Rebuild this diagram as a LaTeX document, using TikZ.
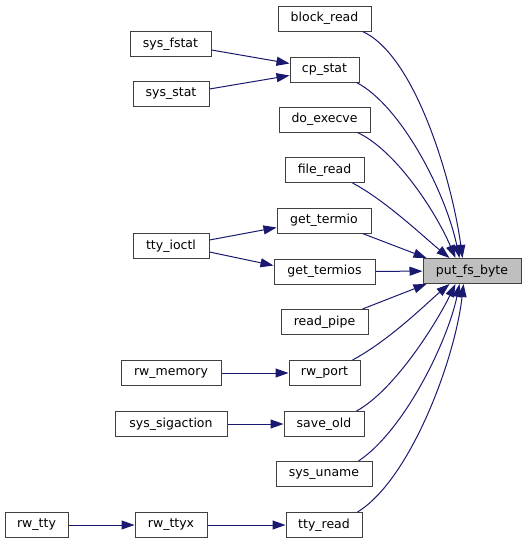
\documentclass[tikz,border=0pt]{standalone}
\usepackage{fontspec}
\setmainfont{DejaVu Sans}
\usetikzlibrary{positioning, arrows.meta, calc}

\definecolor{edgeblue}{RGB}{25,25,112}
\definecolor{boxgray}{RGB}{191,191,191}

\begin{document}
\begin{tikzpicture}[
          x=1pt, y=-1pt,
          font=\fontsize{12.5pt}{14pt}\selectfont,
          fn/.style={draw=black!75, line width=1pt, fill=white, inner sep=0pt, minimum height=25pt},
          root/.style={fn, fill=boxgray},
          call/.style={draw=edgeblue, line width=1pt, -{Triangle[length=13pt, width=9pt]}}
      ]
          \useasboundingbox (0,0) rectangle (527,544);

          % Zielfunktion rechts
          \node[root, minimum width=98pt] (put) at (472,271) {put\_fs\_byte};

          % Direkte Aufrufer (mittlere Spalte)
          \node[fn, minimum width=93pt] (block_read) at (324.5,18.5) {block\_read};
          \node[fn, minimum width=69pt] (cp_stat) at (324.5,69.5) {cp\_stat};
          \node[fn, minimum width=91pt] (do_execve) at (324.5,119.5) {do\_execve};
          \node[fn, minimum width=79pt] (file_read) at (324.5,170) {file\_read};
          \node[fn, minimum width=94pt] (get_termio) at (324,220.5) {get\_termio};
          \node[fn, minimum width=101pt] (get_termios) at (324.5,271.5) {get\_termios};
          \node[fn, minimum width=87pt] (read_pipe) at (324.5,322) {read\_pipe};
          \node[fn, minimum width=71pt] (rw_port) at (324.5,373) {rw\_port};
          \node[fn, minimum width=80pt] (save_old) at (324,424) {save\_old};
          \node[fn, minimum width=96pt] (sys_uname) at (324,474) {sys\_uname};
          \node[fn, minimum width=76pt] (tty_read) at (324,525) {tty\_read};

          % Indirekte Aufrufer (linke Spalten)
          \node[fn, minimum width=81pt] (sys_fstat) at (170.5,44) {sys\_fstat};
          \node[fn, minimum width=76pt] (sys_stat) at (171,94) {sys\_stat};
          \node[fn, minimum width=76pt] (tty_ioctl) at (171,246) {tty\_ioctl};
          \node[fn, minimum width=100pt] (rw_memory) at (171,373) {rw\_memory};
          \node[fn, minimum width=112pt] (sys_sigaction) at (171,424) {sys\_sigaction};
          \node[fn, minimum width=72pt] (rw_ttyx) at (171,525) {rw\_ttyx};
          \node[fn, minimum width=63pt] (rw_tty) at (36.5,525) {rw\_tty};

          % Kanten in die Zielfunktion (oben)
          \draw[call] ($(block_read.south east)+(-9,0)$) .. controls (415,55) and (452,180) .. ($(put.north west)+(40,0)$);
          \draw[call] ($(cp_stat.south east)+(-3,0)$) .. controls (400,105) and (445,190) .. ($(put.north west)+(37,0)$);
          \draw[call] ($(do_execve.south east)+(-13,0)$) .. controls (395,150) and (435,210) .. ($(put.north west)+(33,0)$);
          \draw[call] ($(file_read.south east)+(-12,0)$) .. controls (385,200) and (425,238) .. ($(put.north west)+(27,0)$);
          \draw[call] ($(get_termio.south east)+(-9,0)$) -- ($(put.north west)+(4,0)$);
          \draw[call] (get_termios) -- (put);

          % Kanten in die Zielfunktion (unten)
          \draw[call] ($(read_pipe.north east)+(-6,0)$) -- ($(put.south west)+(4,0)$);
          \draw[call] ($(rw_port.north east)+(-8,0)$) .. controls (390,340) and (428,302) .. ($(put.south west)+(27,0)$);
          \draw[call] ($(save_old.north east)+(-8,0)$) .. controls (395,390) and (437,322) .. ($(put.south west)+(33,0)$);
          \draw[call] ($(sys_uname.north east)+(-14,0)$) .. controls (405,430) and (448,340) .. ($(put.south west)+(37,0)$);
          \draw[call] ($(tty_read.north east)+(-5,0)$) .. controls (410,480) and (455,360) .. ($(put.south west)+(41,0)$);

          % Kanten der zweiten Ebene
          \draw[call] ($(sys_fstat.east)+(0,6)$) -- ($(cp_stat.west)+(0,-6)$);
          \draw[call] ($(sys_stat.east)+(0,-5)$) -- ($(cp_stat.west)+(0,6)$);
          \draw[call] ($(tty_ioctl.east)+(0,-6)$) -- ($(get_termio.west)+(0,7)$);
          \draw[call] ($(tty_ioctl.east)+(0,6)$) -- ($(get_termios.west)+(0,-6)$);
          \draw[call] (rw_memory) -- (rw_port);
          \draw[call] (sys_sigaction) -- (save_old);
          \draw[call] (rw_tty) -- (rw_ttyx);
          \draw[call] (rw_ttyx) -- (tty_read);
      \end{tikzpicture}
\end{document}
